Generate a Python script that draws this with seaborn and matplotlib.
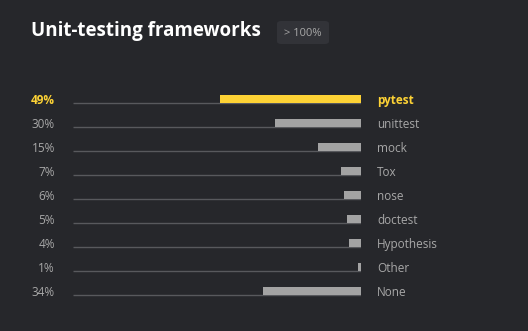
import matplotlib.pyplot as plt
import seaborn as sns
from matplotlib.patches import FancyBboxPatch
from matplotlib.transforms import blended_transform_factory

# data
frameworks = ['pytest', 'unittest', 'mock', 'Tox', 'nose', 'doctest', 'Hypothesis', 'Other', 'None']
shares = [49, 30, 15, 7, 6, 5, 4, 1, 34]

bg = '#26272b'
yellow = '#fdd235'
gray = '#a3a3a3'
text_gray = '#a8a8a8'

sns.set_theme(style='white')
plt.rcParams['font.family'] = ['Open Sans', 'DejaVu Sans']

fig = plt.figure(figsize=(5.28, 3.31), dpi=100, facecolor=bg)
W, H = 528, 331
ax = fig.add_axes([73 / W, (H - 303) / H, 288 / W, 216 / H])
ax.set_facecolor(bg)

colors = [yellow] + [gray] * (len(frameworks) - 1)
bw = 1 / 3
sns.barplot(x=shares, y=frameworks, hue=frameworks, palette=colors, legend=False,
            orient='h', width=bw, ax=ax, saturation=1)
for p in ax.patches:
    p.set_linewidth(0)

ax.set_xlim(100, 0)
ax.set_ylim(len(frameworks) - 0.5, -0.5)

# baselines under each bar
for i in range(len(frameworks)):
    ax.hlines(i + bw / 2, 0, 100, color='#58595d', lw=1, zorder=0)

trans = blended_transform_factory(fig.transFigure, ax.transData)
for i, (name, val) in enumerate(zip(frameworks, shares)):
    c = yellow if i == 0 else text_gray
    fw = 'bold' if i == 0 else 'normal'
    ax.text(55 / W, i + 0.05, f'{val}%', transform=trans, ha='right', va='center',
            color=c, fontsize=8.5, fontweight=fw)
    ax.text(377 / W, i + 0.05, name, transform=trans, ha='left', va='center',
            color=c, fontsize=8.5, fontweight=fw)

ax.set_xticks([])
ax.set_yticks([])
ax.set_xlabel('')
ax.set_ylabel('')
sns.despine(ax=ax, left=True, bottom=True)

# title and badge
fig.text(31 / W, 1 - 31 / H, 'Unit-testing frameworks', color='white', fontsize=13.5,
         fontweight='bold', ha='left', va='center')
badge = FancyBboxPatch((277 / W, 1 - 44 / H), 52 / W, 23 / H,
                       boxstyle='round,pad=0,rounding_size=0.008',
                       transform=fig.transFigure, facecolor='#323338', edgecolor='none')
fig.patches.append(badge)
fig.text(303 / W, 1 - 33 / H, '> 100%', color='#a8a8a8', fontsize=8,
         ha='center', va='center')

fig.savefig('out.png', dpi=100, facecolor=bg)
